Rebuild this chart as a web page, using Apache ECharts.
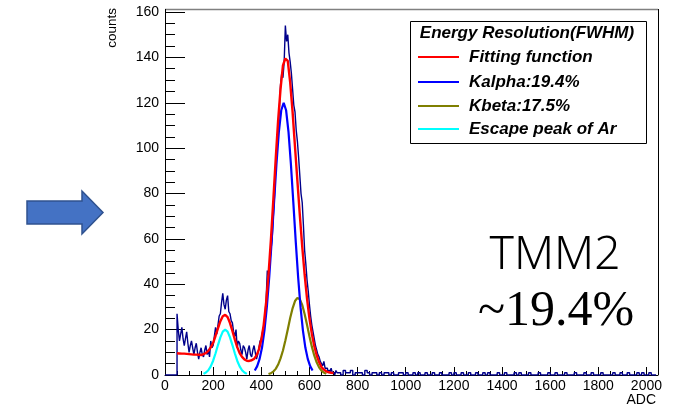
<!DOCTYPE html>
<html>
<head>
<meta charset="utf-8">
<script src="https://cdn.jsdelivr.net/npm/echarts@6/dist/echarts.min.js"></script>
<style>
html,body{margin:0;padding:0;background:#fff;}
#chart{width:674px;height:407px;}
</style>
</head>
<body>
<div id="chart"></div>
<script>
// ---- data ----
// main region: 5-ADC bins starting at 0
var mainStart = 0;
var mainBinWidth = 5;
var mainCounts = [
  0,0,0,0,0,0,0,0,0,0,
  27,20,15,18,21,16,13,16,19,14,
  10,13,15,12,9,12,14,10,7,10,
  12,9,8,11,13,9,11,8,15,12,
  13,17,21,18,22,26,27,32,36,31,
  29,33,35,28,27,24,23,19,17,20,
  12,15,14,11,9,13,12,10,7,11,
  13,9,8,11,13,10,7,9,12,15,
  16,19,21,26,33,46,44,49,55,60,
  70,79,92,101,108,117,128,133,131,138,
  154,147,150,142,138,133,126,119,116,108,
  103,96,88,80,76,66,55,49,42,37,
  31,26,22,19,16,13,11,9,8,6,
  5,4,6,3,3,2,2,1,3,1,
  1,0,2,1
];
// tail region: 10-ADC bins starting at 720
var tailStart = 720;
var tailBinWidth = 10;
var tailCounts = [
  1,0,2,1,1,2,0,1,
  1,1,0,2,1,0,1,1,0,1,
  0,1,1,0,1,0,0,1,1,0,
  1,0,0,1,0,1,0,0,1,0,
  0,1,0,0,1,0,0,0,1,0,
  1,0,0,1,0,0,1,0,0,1,
  0,0,1,0,1,0,0,0,1,0,
  0,1,0,0,0,1,0,1,0,0,
  0,1,0,0,0,1,0,0,0,1,
  0,0,1,0,0,0,1,0,0,0,
  1,0,0,0,1,0,0,1,0,0,
  0,1,0,0,0,0,1,0,0,1,
  0,0,1,0,0,0,1,0,1,0,
  0,1,0,0
];

var fitX = [50,60,70,80,90,100,110,120,130,140,150,160,170,180,190,200,210,220,230,240,250,260,270,280,290,300,310,320,330,340,350,360,370,380,390,400,410,420,430,440,450,460,470,480,490,500,510,520,530,540,550,560,570,580,590,600,610,620,630,640,650,660,670,680,690,700];
var fitY = [9.6,9.5,9.4,9.4,9.3,9.2,9.1,9.0,9.0,8.9,8.8,9.2,9.7,10.6,12.2,14.2,17.3,20.6,23.7,25.9,26.5,25.5,22.9,19.4,15.7,12.3,9.7,8.0,6.9,6.3,6.2,6.5,7.1,8.6,11.2,15.5,22.1,31.9,44.3,59.7,77.2,95.4,112.4,126.1,136.5,139.5,138.5,129,116,100.6,85.5,70.6,56.7,44.3,33.7,25.0,18.1,12.8,8.7,5.7,3.5,2.4,1.6,1.2,1.0,0.9];

var kalphaX = [373,383,393,403,413,423,433,443,453,463,473,483,493,503,513,523,533,543,553,563,573,583,593,603,613];
var kalphaY = [2.0,3.9,7.1,12.1,19.6,29.9,43.2,59.0,76.2,93.0,107.2,116.7,120,116.7,107.2,93.0,76.2,59.0,43.2,29.9,19.6,12.1,7.1,3.9,2.0];

var kbetaX = [430,440,450,460,470,480,490,500,510,520,530,540,550,560,570,580,590,600,610,620,630,640,650,660,670];
var kbetaY = [0.4,0.8,1.5,2.7,4.6,7.3,10.8,15.2,20.1,25.1,29.4,32.6,34,33.4,30.9,26.9,22.1,17.1,12.5,8.6,5.6,3.4,1.9,1.1,0.5];

var escX = [160,170,180,190,200,210,220,230,240,250,260,270,280,290,300,310,320,330,340];
var escY = [0.5,1.1,2.1,3.8,6.3,9.6,13.2,16.6,19.1,20,19.1,16.6,13.2,9.6,6.3,3.8,2.1,1.1,0.5];

var xTickLabels = ['0','200','400','600','800','1000','1200','1400','1600','1800','2000'];
var yTickLabels = ['0','20','40','60','80','100','120','140','160'];

var legendTitle = 'Energy Resolution(FWHM)';
var legendNames = ['Fitting function','Kalpha:19.4%','Kbeta:17.5%','Escape peak of Ar'];
var legendColors = ['#ff0000','#0000ff','#7f7f00','#00ffff'];

// ---- build ----
function pairs(xs, ys){ return xs.map(function(x,i){ return [x, ys[i]]; }); }
var histData = [];
for (var i = 0; i < mainCounts.length; i++) histData.push([mainStart + i*mainBinWidth, mainCounts[i]]);
for (var j = 0; j < tailCounts.length; j++) histData.push([tailStart + j*tailBinWidth, tailCounts[j]]);
histData.push([tailStart + tailCounts.length*tailBinWidth, 0]);

var FONT = 'Liberation Sans, Arial, sans-serif';
var chart = echarts.init(document.getElementById('chart'), null, {renderer:'canvas'});

var legendGraphics = [
  {type:'rect', shape:{x:410.5, y:21.5, width:236, height:122}, style:{fill:'#fff', stroke:'#000', lineWidth:1}, z:100},
  {type:'text', x:527, y:33, style:{text:legendTitle, font:'italic bold 17px ' + FONT, fill:'#000', textAlign:'center', textVerticalAlign:'middle'}, z:101}
];
var legendYs = [57, 82, 106, 129];
legendNames.forEach(function(n, i){
  legendGraphics.push({type:'line', shape:{x1:418, y1:legendYs[i], x2:459, y2:legendYs[i]}, style:{stroke:legendColors[i], lineWidth:2}, z:101});
  legendGraphics.push({type:'text', x:469, y:legendYs[i], style:{text:n, font:'italic bold 17px ' + FONT, fill:'#000', textAlign:'left', textVerticalAlign:'middle'}, z:101});
});

var option = {
  animation:false,
  backgroundColor:'#fff',
  grid:{left:165, right:16, top:12, bottom:32, containLabel:false},
  xAxis:{
    type:'value', min:0, max:2048, interval:200,
    axisLine:{show:true, onZero:false, lineStyle:{color:'#000', width:1}},
    axisTick:{show:true, inside:true, length:8, lineStyle:{color:'#000'}},
    minorTick:{show:true, splitNumber:4, length:4, lineStyle:{color:'#000'}},
    splitLine:{show:false},
    axisLabel:{show:true, margin:4, fontFamily:FONT, fontSize:14, color:'#000', showMaxLabel:false,
      formatter:function(v){ var k = Math.round(v/200); return (v % 200 === 0 && xTickLabels[k] !== undefined) ? xTickLabels[k] : ''; }}
  },
  yAxis:{
    type:'value', min:0, max:160, interval:20,
    axisLine:{show:true, onZero:false, lineStyle:{color:'#000', width:1}},
    axisTick:{show:true, inside:true, length:20, lineStyle:{color:'#000'}},
    minorTick:{show:true, splitNumber:4, length:10, lineStyle:{color:'#000'}},
    splitLine:{show:false},
    axisLabel:{show:true, margin:6, fontFamily:FONT, fontSize:14, color:'#000',
      formatter:function(v){ var k = Math.round(v/20); return yTickLabels[k] !== undefined ? yTickLabels[k] : ''; }}
  },
  series:[
    {type:'line', data:histData, step:'end', symbol:'none', lineStyle:{color:'#00008b', width:1.4}, z:2, clip:true},
    {type:'line', data:pairs(escX, escY), symbol:'none', lineStyle:{color:'#00ffff', width:2.2}, z:3},
    {type:'line', data:pairs(kbetaX, kbetaY), symbol:'none', lineStyle:{color:'#7f7f00', width:2.2}, z:3},
    {type:'line', data:pairs(kalphaX, kalphaY), symbol:'none', lineStyle:{color:'#0000ff', width:2.2}, z:4},
    {type:'line', data:pairs(fitX, fitY), symbol:'none', lineStyle:{color:'#ff0000', width:2.4}, z:5}
  ],
  graphic:[
    {type:'line', shape:{x1:165, y1:9.5, x2:658, y2:9.5}, style:{stroke:'#808080', lineWidth:1.5}, z:50},
    {type:'line', shape:{x1:658.5, y1:9, x2:658.5, y2:375}, style:{stroke:'#000', lineWidth:1}, z:50},
    {type:'line', shape:{x1:165.5, y1:9, x2:165.5, y2:13}, style:{stroke:'#000', lineWidth:1}, z:50},
    {type:'text', x:112, y:8, rotation:Math.PI/2, style:{text:'counts', font:'13.5px ' + FONT, fill:'#000', textAlign:'right', textVerticalAlign:'middle'}, z:50},
    {type:'text', x:656, y:400, style:{text:'ADC', font:'14px ' + FONT, fill:'#000', textAlign:'right', textVerticalAlign:'middle'}, z:50},
    {type:'text', x:555, y:256, style:{text:'TMM2', font:'300 46px "Noto Sans", sans-serif', fill:'#000', textAlign:'center', textVerticalAlign:'middle'}, z:50},
    {type:'text', x:556, y:312, style:{text:'~19.4%', font:'50px "Liberation Serif", serif', fill:'#000', textAlign:'center', textVerticalAlign:'middle'}, z:50},
    {type:'polygon', shape:{points:[[27,201],[82,201],[82,191],[103,212.5],[82,234],[82,224],[27,224]]}, style:{fill:'#4472c4', stroke:'#2f528f', lineWidth:1.5}, z:50}
  ].concat(legendGraphics)
};
chart.setOption(option);
</script>
</body>
</html>
